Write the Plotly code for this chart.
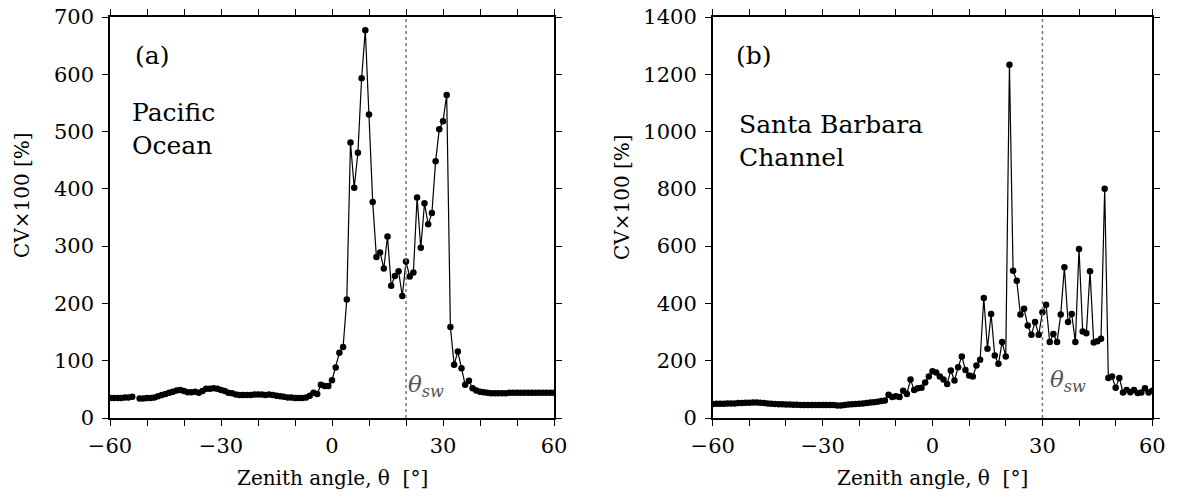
import plotly.graph_objects as go

# ---------------- data ----------------
angles = list(range(-60, 61))

cv_pacific = [
    35, 35, 35, 35, 36, 36, 37,                      # -60..-54
    None,                                            # -53
    34, 34, 35, 35, 36, 38, 40, 42, 44, 46, 48, 49,  # -52..-41
    47, 45, 45, 46, 44, 47, 51, 51, 52, 51,          # -40..-31
    49, 47, 44, 43, 41, 40, 40, 40, 40, 41,          # -30..-21
    41, 41, 40, 41, 40, 39, 38, 37, 36, 36,          # -20..-11
    35, 35, 35, 36, 39, 44, 42, 58, 56, 56,          # -10..-1
    66, 88, 114, 124, 207, 481, 402, 463, 593, 677,  # 0..9
    530, 377, 281, 289, 261, 317, 231, 248, 256, 213,  # 10..19
    273, 247, 254, 385, 297, 375, 338, 358, 448, 504,  # 20..29
    518, 564, 159, 93, 116, 87, 58, 65, 52, 48,      # 30..39
    46, 45, 44, 43, 43, 43, 43, 43, 44, 44,          # 40..49
    44, 44, 44, 44, 44, 44, 44, 44, 44, 44, 44,      # 50..60
]

cv_santa_barbara = [
    49, 50, 50, 50, 51, 51, 51, 52, 52, 53,          # -60..-51
    53, 54, 54, 53, 52, 51, 50, 49, 48, 48,          # -50..-41
    47, 47, 46, 46, 45, 45, 45, 45, 45, 45,          # -40..-31
    45, 45, 45, 45, 44, 44, 45, 47, 48, 49,          # -30..-21
    50, 51, 52, 54, 55, 57, 59, 61, 81, 73,          # -20..-11
    76, 73, 95, 84, 134, 98, 104, 106, 124, 145,     # -10..-1
    163, 159, 145, 134, 119, 166, 131, 177, 215, 168,  # 0..9
    148, 145, 183, 203, 419, 242, 363, 218, 189, 265,  # 10..19
    215, 1233, 514, 479, 361, 381, 323, 291, 335, 291,  # 20..29
    369, 395, 265, 293, 265, 361, 526, 335, 363, 265,  # 30..39
    590, 302, 296, 512, 264, 268, 277, 800, 140, 145,  # 40..49
    106, 140, 89, 98, 90, 98, 87, 89, 104, 89, 95,   # 50..60
]

theta_sw_pacific = 20
theta_sw_santa_barbara = 30

x_tick_vals = list(range(-60, 61, 10))
x_tick_text = ["\u221260", " ", " ", "\u221230", " ", " ", "0", " ", " ", "30", " ", " ", "60"]
y_tick_vals_a = list(range(0, 701, 100))
y_tick_vals_b = list(range(0, 1401, 200))

panel_labels = ["(a)", "(b)"]
site_names = ["Pacific<br>Ocean", "Santa Barbara<br>Channel"]
x_title = "Zenith angle, \u03b8  [\u00b0]"
y_title = "CV\u00d7100 [%]"

# ---------------- figure ----------------
FONT = "DejaVu Serif"
fig = go.Figure()

fig.add_trace(go.Scatter(
    x=angles, y=cv_pacific, mode="lines+markers", xaxis="x", yaxis="y",
    line=dict(color="black", width=1.2), marker=dict(color="black", size=6.5),
    connectgaps=False, showlegend=False))
fig.add_trace(go.Scatter(
    x=angles, y=cv_santa_barbara, mode="lines+markers", xaxis="x2", yaxis="y2",
    line=dict(color="black", width=1.2), marker=dict(color="black", size=6.5),
    showlegend=False))

W, H = 1178, 498
ydom = [1 - 418 / H, 1 - 17 / H]

common_x = dict(range=[-60, 60], tickvals=x_tick_vals, ticktext=x_tick_text,
                ticks="outside", ticklen=6, tickwidth=1.2, tickcolor="black",
                showline=True, linecolor="black", linewidth=1.5, mirror="ticks",
                showgrid=False, zeroline=False, automargin=False, ticklabelstandoff=2,
                tickfont=dict(family=FONT, size=21, color="black"))
common_y = dict(ticks="outside", ticklen=6, tickwidth=1.2, tickcolor="black",
                showline=True, linecolor="black", linewidth=1.5, mirror="ticks",
                showgrid=False, zeroline=False, automargin=False, ticklabelstandoff=4,
                tickfont=dict(family=FONT, size=21, color="black"))

fig.update_layout(
    width=W, height=H, margin=dict(l=0, r=0, t=0, b=0, pad=0, autoexpand=False),
    paper_bgcolor="white", plot_bgcolor="white",
    font=dict(family=FONT, color="black"),
    xaxis=dict(domain=[110 / W, 554 / W], anchor="y", **common_x),
    yaxis=dict(domain=ydom, anchor="x", range=[0, 700], tickvals=y_tick_vals_a, **common_y),
    xaxis2=dict(domain=[712.7 / W, 1152.3 / W], anchor="y2", **common_x),
    yaxis2=dict(domain=ydom, anchor="x2", range=[0, 1400], tickvals=y_tick_vals_b, **common_y),
)

# theta_sw dashed lines
for xr, yr, th in [("x", "y", theta_sw_pacific), ("x2", "y2", theta_sw_santa_barbara)]:
    fig.add_shape(type="line", xref=xr, yref=f"{yr} domain", x0=th, x1=th, y0=0, y1=1,
                  line=dict(color="#777777", width=1.5, dash="dot"))

ann = []
ann.append(dict(text=panel_labels[0], x=152 / W, y=1 - 56 / H, xref="paper", yref="paper",
                xanchor="center", yanchor="middle", showarrow=False,
                font=dict(family=FONT, size=25, color="black")))
ann.append(dict(text=panel_labels[1], x=754 / W, y=1 - 56 / H, xref="paper", yref="paper",
                xanchor="center", yanchor="middle", showarrow=False,
                font=dict(family=FONT, size=25, color="black")))
ann.append(dict(text=site_names[0], x=130 / W, y=1 - 129 / H, xref="paper", yref="paper",
                xanchor="left", yanchor="middle", align="left", showarrow=False,
                font=dict(family=FONT, size=25, color="black")))
ann.append(dict(text=site_names[1], x=737 / W, y=1 - 141 / H, xref="paper", yref="paper",
                xanchor="left", yanchor="middle", align="left", showarrow=False,
                font=dict(family=FONT, size=25, color="black")))
ann.append(dict(text="<i>\u03b8<sub>sw</sub></i>", x=theta_sw_pacific, y=1 - 386 / H,
                xref="x", yref="paper", xanchor="left", yanchor="middle", xshift=0,
                showarrow=False, font=dict(family=FONT, size=23, color="#555555")))
ann.append(dict(text="<i>\u03b8<sub>sw</sub></i>", x=theta_sw_santa_barbara, y=1 - 381 / H,
                xref="x2", yref="paper", xanchor="left", yanchor="middle", xshift=6,
                showarrow=False, font=dict(family=FONT, size=23, color="#555555")))
# axis titles
for cx in [332 / W, 932.5 / W]:
    ann.append(dict(text=x_title, x=cx, y=1 - 478 / H, xref="paper", yref="paper",
                    xanchor="center", yanchor="middle", showarrow=False,
                    font=dict(family=FONT, size=20, color="black")))
for cx, cy in [(22 / W, 1 - 195 / H), (622 / W, 1 - 197 / H)]:
    ann.append(dict(text=y_title, x=cx, y=cy, xref="paper", yref="paper", textangle=-90,
                    xanchor="center", yanchor="middle", showarrow=False,
                    font=dict(family=FONT, size=20, color="black")))
fig.update_layout(annotations=ann)

fig.write_html("out.html")
